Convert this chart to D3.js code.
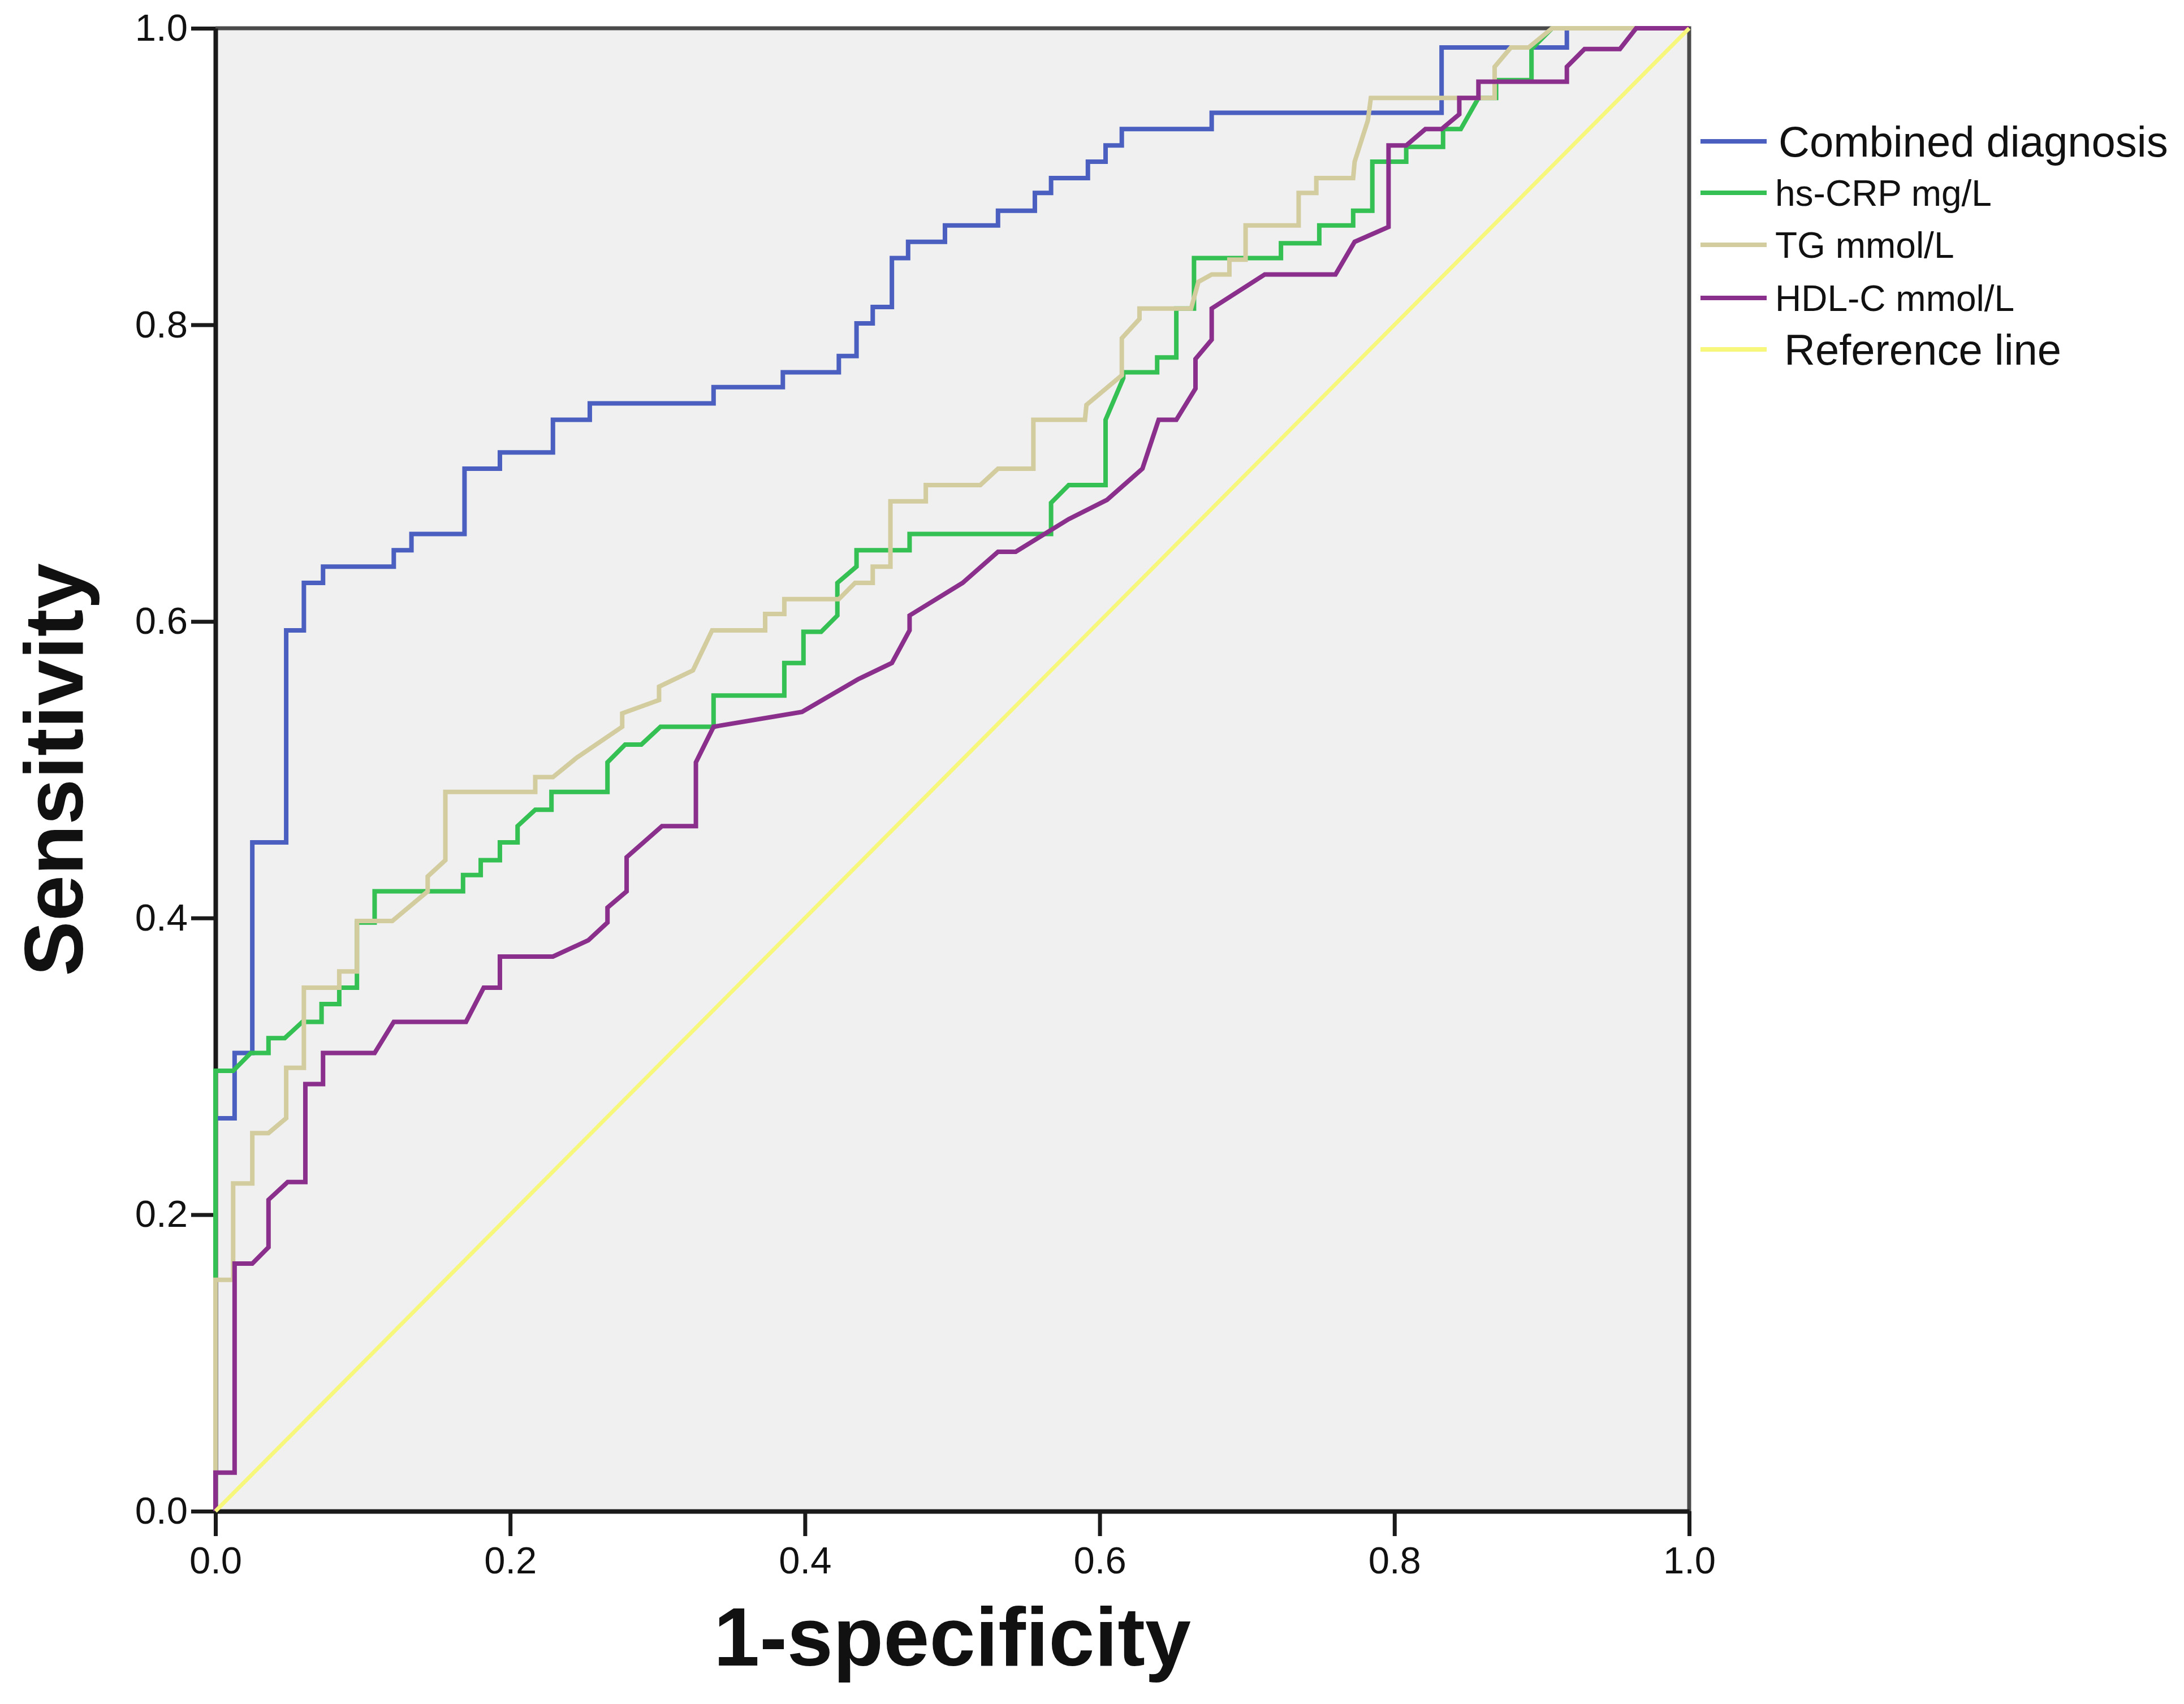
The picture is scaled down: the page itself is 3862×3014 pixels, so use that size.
<!DOCTYPE html>
<html>
<head>
<meta charset="utf-8">
<script src="https://cdn.jsdelivr.net/npm/d3@7"></script>
<style>
  body { margin: 0; background: #ffffff; }
  svg text { font-family: "Liberation Sans", Arial, sans-serif; fill: #111; }
</style>
</head>
<body>
<div id="roc-chart"></div>
<script>
// ROC curves, points are [1-specificity, sensitivity]

const seriesNames = ["Combined diagnosis", "hs-CRP mg/L", "TG mmol/L", "HDL-C mmol/L", "Reference line"];

const combinedPts = [
  [0,0],[0,0.265],[0.013,0.265],[0.013,0.309],[0.025,0.309],[0.025,0.451],[0.048,0.451],
  [0.048,0.594],[0.060,0.594],[0.060,0.626],[0.073,0.626],[0.073,0.637],[0.121,0.637],
  [0.121,0.648],[0.133,0.648],[0.133,0.659],[0.169,0.659],[0.169,0.703],[0.193,0.703],
  [0.193,0.714],[0.229,0.714],[0.229,0.736],[0.254,0.736],[0.254,0.747],[0.338,0.747],
  [0.338,0.758],[0.385,0.758],[0.385,0.768],[0.423,0.768],[0.423,0.779],[0.435,0.779],
  [0.435,0.801],[0.446,0.801],[0.446,0.812],[0.459,0.812],[0.459,0.845],[0.470,0.845],
  [0.470,0.856],[0.495,0.856],[0.495,0.867],[0.531,0.867],[0.531,0.877],[0.556,0.877],
  [0.556,0.889],[0.567,0.889],[0.567,0.899],[0.592,0.899],[0.592,0.910],[0.604,0.910],
  [0.604,0.921],[0.615,0.921],[0.615,0.932],[0.676,0.932],[0.676,0.943],[0.832,0.943],
  [0.832,0.987],[0.917,0.987],[0.917,1],[1,1]
];

const hsCrpPts = [
  [0,0],[0,0.297],[0.012,0.297],[0.024,0.309],[0.036,0.309],[0.036,0.319],[0.047,0.319],
  [0.059,0.330],[0.072,0.330],[0.072,0.342],[0.084,0.342],[0.084,0.353],[0.096,0.353],
  [0.096,0.397],[0.108,0.397],[0.108,0.418],[0.168,0.418],[0.168,0.429],[0.180,0.429],
  [0.180,0.439],[0.193,0.439],[0.193,0.451],[0.205,0.451],[0.205,0.462],[0.217,0.473],
  [0.228,0.473],[0.228,0.485],[0.266,0.485],[0.266,0.505],[0.278,0.517],[0.289,0.517],
  [0.302,0.529],[0.338,0.529],[0.338,0.550],[0.386,0.550],[0.386,0.572],[0.399,0.572],
  [0.399,0.593],[0.411,0.593],[0.422,0.604],[0.422,0.626],[0.435,0.637],[0.435,0.648],
  [0.471,0.648],[0.471,0.659],[0.567,0.659],[0.567,0.680],[0.579,0.692],[0.604,0.692],
  [0.604,0.736],[0.616,0.764],[0.616,0.768],[0.639,0.768],[0.639,0.778],[0.652,0.778],
  [0.652,0.811],[0.664,0.811],[0.664,0.845],[0.723,0.845],[0.723,0.855],[0.749,0.855],
  [0.749,0.867],[0.772,0.867],[0.772,0.877],[0.785,0.877],[0.785,0.910],[0.808,0.910],
  [0.808,0.920],[0.833,0.920],[0.833,0.932],[0.845,0.932],[0.857,0.953],[0.869,0.953],
  [0.869,0.965],[0.893,0.965],[0.893,0.986],[0.907,1],[1,1]
];

const tgPts = [
  [0,0],[0,0.156],[0.012,0.156],[0.012,0.221],[0.025,0.221],[0.025,0.255],[0.036,0.255],
  [0.048,0.265],[0.048,0.299],[0.060,0.299],[0.060,0.353],[0.084,0.353],[0.084,0.364],
  [0.096,0.364],[0.096,0.398],[0.120,0.398],[0.144,0.418],[0.144,0.428],[0.156,0.439],
  [0.156,0.485],[0.217,0.485],[0.217,0.495],[0.229,0.495],[0.245,0.508],[0.276,0.529],
  [0.276,0.538],[0.301,0.547],[0.301,0.556],[0.324,0.567],[0.337,0.594],[0.373,0.594],
  [0.373,0.605],[0.386,0.605],[0.386,0.615],[0.423,0.615],[0.434,0.626],[0.446,0.626],
  [0.446,0.637],[0.458,0.637],[0.458,0.681],[0.482,0.681],[0.482,0.692],[0.519,0.692],
  [0.531,0.703],[0.555,0.703],[0.555,0.736],[0.590,0.736],[0.591,0.746],[0.615,0.766],
  [0.615,0.791],[0.627,0.804],[0.627,0.811],[0.662,0.811],[0.667,0.829],[0.676,0.834],
  [0.688,0.834],[0.688,0.844],[0.699,0.844],[0.699,0.867],[0.735,0.867],[0.735,0.889],
  [0.747,0.889],[0.747,0.899],[0.772,0.899],[0.773,0.910],[0.782,0.938],[0.784,0.953],
  [0.868,0.953],[0.868,0.974],[0.879,0.987],[0.891,0.987],[0.907,1],[1,1]
];

const hdlPts = [
  [0,0],[0,0.026],[0.013,0.026],[0.013,0.167],[0.025,0.167],[0.036,0.178],[0.036,0.210],
  [0.049,0.222],[0.061,0.222],[0.061,0.288],[0.073,0.288],[0.073,0.309],[0.108,0.309],
  [0.121,0.330],[0.170,0.330],[0.182,0.353],[0.193,0.353],[0.193,0.374],[0.229,0.374],
  [0.253,0.385],[0.266,0.397],[0.266,0.407],[0.279,0.418],[0.279,0.441],[0.303,0.462],
  [0.326,0.462],[0.326,0.505],[0.338,0.529],[0.398,0.539],[0.436,0.561],[0.459,0.572],
  [0.471,0.594],[0.471,0.604],[0.507,0.626],[0.531,0.647],[0.543,0.647],[0.579,0.669],
  [0.605,0.682],[0.629,0.703],[0.640,0.736],[0.652,0.736],[0.665,0.757],[0.665,0.777],
  [0.676,0.790],[0.676,0.811],[0.712,0.834],[0.760,0.834],[0.773,0.856],[0.796,0.866],
  [0.796,0.921],[0.808,0.921],[0.821,0.932],[0.832,0.932],[0.844,0.942],[0.844,0.953],
  [0.857,0.953],[0.857,0.964],[0.917,0.964],[0.917,0.974],[0.929,0.986],[0.953,0.986],
  [0.964,1],[1,1]
];

const referencePts = [[0,0],[1,1]];

const tickValues = [0, 0.2, 0.4, 0.6, 0.8, 1.0];

// Colours for the series, same order as seriesNames
const seriesColors = ["#4a5fbf", "#34c052", "#d3cc9f", "#8b2f8c", "#f7f77c"];

// Set Dimensions
const width = 3862;
const height = 3014;
const plotLeft = 381;
const plotRight = 2987;
const plotTop = 50;
const plotBottom = 2673;

const svg = d3.select("#roc-chart")
  .append("svg")
  .attr("width", width)
  .attr("height", height);

// Plot background
svg.append("rect")
  .attr("x", plotLeft)
  .attr("y", plotTop)
  .attr("width", plotRight - plotLeft)
  .attr("height", plotBottom - plotTop)
  .attr("fill", "#f0f0f0");

// Scales
const xScale = d3.scaleLinear().domain([0, 1]).range([plotLeft, plotRight]);
const yScale = d3.scaleLinear().domain([0, 1]).range([plotBottom, plotTop]);

// Top and right frame
svg.append("path")
  .attr("d", "M" + plotLeft + "," + plotTop + "H" + plotRight + "V" + plotBottom)
  .attr("fill", "none")
  .attr("stroke", "#4a4a4a")
  .attr("stroke-width", 7);

// X Axis
const gx = svg.append("g")
  .attr("transform", "translate(0," + plotBottom + ")")
  .call(d3.axisBottom(xScale)
    .tickValues(tickValues)
    .tickFormat(d3.format(".1f"))
    .tickSize(44)
    .tickSizeOuter(0)
    .tickPadding(18));

// Y Axis
const gy = svg.append("g")
  .attr("transform", "translate(" + plotLeft + ",0)")
  .call(d3.axisLeft(yScale)
    .tickValues(tickValues)
    .tickFormat(d3.format(".1f"))
    .tickSize(43)
    .tickSizeOuter(0)
    .tickPadding(6));

[gx, gy].forEach(function(g){
  g.select(".domain").attr("stroke", "#1a1a1a").attr("stroke-width", 8);
  g.selectAll(".tick line").attr("stroke", "#1a1a1a").attr("stroke-width", 7);
  g.selectAll(".tick text")
    .attr("font-size", 67)
    .attr("font-family", "Liberation Sans, Arial, sans-serif")
    .attr("fill", "#1a1a1a");
});

// Curves
const line = d3.line()
  .x(function(d){ return xScale(d[0]); })
  .y(function(d){ return yScale(d[1]); });

const allSeries = [combinedPts, hsCrpPts, tgPts, hdlPts, referencePts];

svg.append("g")
  .selectAll("path")
  .data(allSeries)
  .enter()
  .append("path")
  .attr("d", line)
  .attr("fill", "none")
  .attr("stroke", function(d, i){ return seriesColors[i]; })
  .attr("stroke-width", function(d, i){ return i === 4 ? 7 : 8; })
  .attr("stroke-linejoin", "miter");

// Axis titles
svg.append("text")
  .attr("x", (plotLeft + plotRight) / 2)
  .attr("y", 2946)
  .attr("text-anchor", "middle")
  .attr("font-size", 146)
  .attr("font-weight", "bold")
  .text("1-specificity");

svg.append("text")
  .attr("transform", "translate(146," + ((plotTop + plotBottom) / 2) + ") rotate(-90)")
  .attr("text-anchor", "middle")
  .attr("font-size", 146)
  .attr("font-weight", "bold")
  .text("Sensitivity");

// Legend
const legendY = [250, 341, 433, 527, 618];
const legendSize = [76, 64, 64, 64, 76];
const legendTextX = [3145, 3139, 3139, 3139, 3155];

const legend = svg.append("g");
seriesNames.forEach(function(name, i){
  legend.append("line")
    .attr("x1", 3007)
    .attr("x2", 3124)
    .attr("y1", legendY[i])
    .attr("y2", legendY[i])
    .attr("stroke", seriesColors[i])
    .attr("stroke-width", 8);
  legend.append("text")
    .attr("x", legendTextX[i])
    .attr("y", legendY[i])
    .attr("dy", "0.36em")
    .attr("font-size", legendSize[i])
    .text(name);
});
</script>
</body>
</html>
